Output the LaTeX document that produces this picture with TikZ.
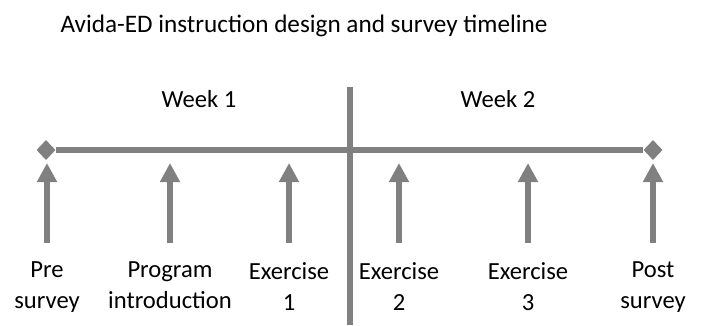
\documentclass[tikz,border=0pt]{standalone}
\usepackage{fontspec}
\setmainfont{Carlito}
\usetikzlibrary{arrows.meta,shapes.geometric}
\definecolor{lineg}{HTML}{808080}

\begin{document}
\begin{tikzpicture}[x=1pt,y=-1pt,
  every node/.style={font=\fontsize{24.6}{31}\selectfont},
  ends/.style={diamond,fill=lineg,inner sep=0pt,minimum width=19pt,minimum height=20pt},
  pointer/.style={draw=lineg,line width=6pt,-{Triangle[width=19pt,length=19pt]}},
  evtext/.style={anchor=north,align=center,inner sep=0pt}]
  \useasboundingbox (0,0) rectangle (701,325);

  %Title
  \node[anchor=base west,font=\fontsize{25.2}{31}\selectfont] (Title) at (57,32) {Avida-ED instruction design and survey timeline};

  %Weeks
  \node[anchor=base] (Week1) at (199,107) {Week 1};
  \node[anchor=base] (Week2) at (498,107) {Week 2};

  %Axis
  \node[ends] (Start) at (46,150) {};
  \node[ends] (End) at (653,150) {};
  \draw[lineg,line width=6pt] (Start) -- (End);
  \coordinate (Top) at (350,87);
  \coordinate (Bottom) at (350,325);
  \draw[lineg,line width=5.5pt] (Top) -- (Bottom);

  %Events
  \foreach \x/\name/\txt in {47/Pre/{Pre\\survey},
                             170/Intro/{Program\\introduction},
                             289/ExA/{Exercise\\1},
                             399/ExB/{Exercise\\2},
                             528/ExC/{Exercise\\3},
                             653/Post/{Post\\survey}}{
    \coordinate (\name-tail) at (\x,243);
    \coordinate (\name-tip) at (\x,163);
    \draw[pointer] (\name-tail) -- (\name-tip);
    \node[evtext] (\name) at (\x,262) {\txt};
  }
\end{tikzpicture}
\end{document}
